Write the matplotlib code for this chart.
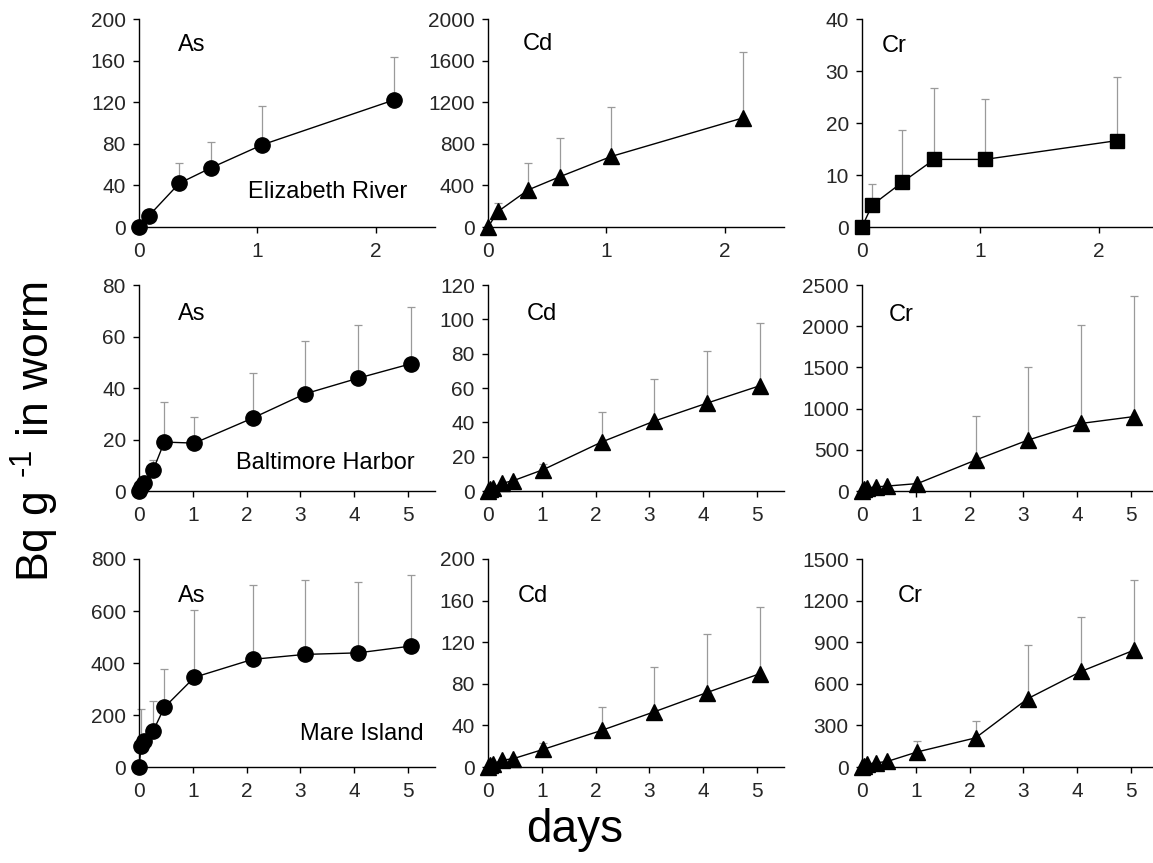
#!/usr/bin/env python3
# -*- coding: utf-8 -*-

import numpy as np
import matplotlib
matplotlib.use('Agg')
from matplotlib import pyplot as plt

plt.rcParams['font.family'] = ['Liberation Sans', 'DejaVu Sans']
plt.rcParams['mathtext.fontset'] = 'custom'
plt.rcParams['mathtext.rm'] = 'Liberation Sans'
plt.rcParams['mathtext.default'] = 'regular'

# sampling times (days)
t_er = [0, 0.085, 0.34, 0.61, 1.04, 2.15]
t_long = [0, 0.04, 0.1, 0.26, 0.47, 1.03, 2.11, 3.08, 4.07, 5.05]

# Elizabeth River
as_er = [0, 11, 42, 57, 79, 122]
as_er_sd = [0, 0, 20, 25, 37, 41]
cd_er = [0, 150, 357, 485, 678, 1048]
cd_er_sd = [0, 85, 260, 370, 475, 630]
cr_er = [0, 4.2, 8.6, 13.0, 13.0, 16.6]
cr_er_sd = [0, 4.1, 10.0, 13.8, 11.6, 12.3]

# Baltimore Harbor
as_bh = [0, 1.5, 3, 8, 19, 18.6, 28.3, 37.7, 43.8, 49.4]
as_bh_sd = [0, 0, 0, 3.9, 15.7, 10.3, 17.5, 20.6, 20.8, 22.1]
cd_bh = [0, 1, 2, 4.5, 6, 12.5, 28.5, 40.6, 51.2, 61.3]
cd_bh_sd = [0, 0, 0, 0, 0, 3.5, 17.3, 24.4, 30.5, 36.4]
cr_bh = [0, 20, 35, 50, 60, 90, 375, 617, 820, 903]
cr_bh_sd = [0, 0, 0, 0, 0, 0, 540, 883, 1195, 1464]

# Mare Island
as_mi = [0, 80, 100, 137, 229, 345, 414, 433, 439, 465]
as_mi_sd = [0, 145, 0, 118, 149, 258, 286, 286, 271, 273]
cd_mi = [0, 2, 3, 6.5, 8, 17, 35.2, 52.9, 71.6, 89.7]
cd_mi_sd = [0, 0, 0, 0, 0, 6.5, 22.2, 43.6, 56.1, 64.3]
cr_mi = [0, 10, 20, 30, 40, 109, 210, 493, 689, 842]
cr_mi_sd = [0, 0, 0, 0, 0, 80, 119, 385, 395, 508]

W, H = 1153, 863


def make_axes(fig, left_px, top_px, bottom_px, width_px=296):
    return fig.add_axes([left_px / W, 1 - bottom_px / H,
                         width_px / W, (bottom_px - top_px) / H])


def panel(ax, t, y, sd, marker, ms, ymax, ystep, xmax, elem, elem_pos, site=None, site_pos=None):
    t = np.array(t)
    y = np.array(y)
    sd = np.array(sd)
    ax.errorbar(t, y, yerr=[np.zeros_like(sd), sd], fmt='none', ecolor='#9a9a9a',
                elinewidth=0.9, capsize=3.2, capthick=0.9, zorder=2, clip_on=False)
    ax.plot(t, y, '-', color='black', lw=1.0, marker=marker, markersize=ms,
            markerfacecolor='black', markeredgecolor='black', zorder=3, clip_on=False)
    ax.set_xlim(0, xmax)
    ax.set_ylim(0, ymax)
    ax.set_yticks(np.arange(0, ymax + ystep / 2, ystep))
    ax.set_xticks(np.arange(0, int(xmax) + 1, 1))
    for s in ['top', 'right']:
        ax.spines[s].set_visible(False)
    for s in ['left', 'bottom']:
        ax.spines[s].set_linewidth(1.0)
    ax.tick_params(axis='both', direction='out', length=4.5, width=1.0,
                   labelsize=15, colors='black', labelcolor='#262626')
    ax.tick_params(axis='y', pad=5)
    ax.tick_params(axis='x', pad=6)
    ax.patch.set_alpha(0)
    ax.text(elem_pos[0], elem_pos[1], elem, transform=ax.transAxes,
            fontsize=17, ha='left', va='center')
    if site:
        ax.text(site_pos[0], site_pos[1], site, transform=ax.transAxes,
                fontsize=17, ha='right', va='center')


def main():
    fig = plt.figure(figsize=(W / 100, H / 100), dpi=100)

    lefts = [139, 488, 862]
    rows = [(19, 227), (285, 491), (559, 767)]

    # row 1: Elizabeth River
    top, bot = rows[0]
    ax = make_axes(fig, lefts[0], top, bot)
    panel(ax, t_er, as_er, as_er_sd, 'o', 11, 200, 40, 2.5, 'As', (0.13, 0.875),
          'Elizabeth River', (0.905, 0.17))
    ax = make_axes(fig, lefts[1], top, bot)
    panel(ax, t_er, cd_er, cd_er_sd, '^', 11, 2000, 400, 2.5, 'Cd', (0.117, 0.88))
    ax = make_axes(fig, lefts[2], top, bot)
    panel(ax, t_er, cr_er, cr_er_sd, 's', 10.5, 40, 10, 2.5, 'Cr', (0.067, 0.87))

    # row 2: Baltimore Harbor
    top, bot = rows[1]
    ax = make_axes(fig, lefts[0], top, bot)
    panel(ax, t_long, as_bh, as_bh_sd, 'o', 11, 80, 20, 5.5, 'As', (0.13, 0.86),
          'Baltimore Harbor', (0.93, 0.134))
    ax = make_axes(fig, lefts[1], top, bot)
    panel(ax, t_long, cd_bh, cd_bh_sd, '^', 11, 120, 20, 5.5, 'Cd', (0.13, 0.86))
    ax = make_axes(fig, lefts[2], top, bot)
    panel(ax, t_long, cr_bh, cr_bh_sd, '^', 11, 2500, 500, 5.5, 'Cr', (0.09, 0.855))

    # row 3: Mare Island
    top, bot = rows[2]
    ax = make_axes(fig, lefts[0], top, bot)
    panel(ax, t_long, as_mi, as_mi_sd, 'o', 11, 800, 200, 5.5, 'As', (0.13, 0.82),
          'Mare Island', (0.96, 0.16))
    ax = make_axes(fig, lefts[1], top, bot)
    panel(ax, t_long, cd_mi, cd_mi_sd, '^', 11, 200, 40, 5.5, 'Cd', (0.10, 0.82))
    ax = make_axes(fig, lefts[2], top, bot)
    panel(ax, t_long, cr_mi, cr_mi_sd, '^', 11, 1500, 300, 5.5, 'Cr', (0.12, 0.82))

    fig.text(35 / W, 1 - 432 / H, 'Bq g $^{\u2010' + '1}$ in worm', rotation=90,
             ha='center', va='center', fontsize=32)
    fig.text(575 / W, 1 - 830 / H, 'days', ha='center', va='center', fontsize=33)

    fig.savefig('out.png', dpi=100)


if __name__ == "__main__":
    main()
